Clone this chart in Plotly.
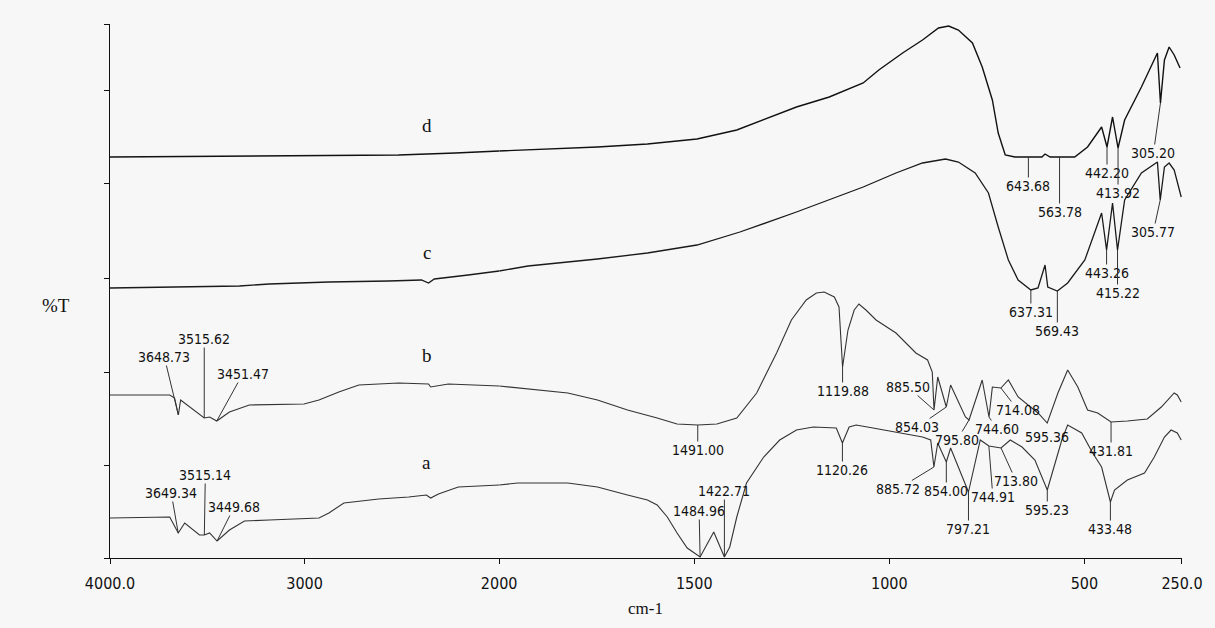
import plotly.graph_objects as go

# ---------------- data (wavenumber cm-1, %T arbitrary units) ----------------
d_wn = [4000, 3233, 2517, 2225, 2000, 1926, 1748, 1620, 1493, 1391, 1289, 1238, 1154, 1067, 1027,
        966, 915, 874, 848, 823, 787, 762, 736, 721, 703, 678, 643.68, 609, 601, 588, 563.78, 525,
        492, 456, 442.20, 428, 413.92, 397, 354, 321, 313, 305.20, 295, 283, 270, 255]
d_t = [80.2, 80.4, 80.6, 81.0, 81.4, 81.6, 82.2, 82.8, 83.8, 85.6, 88.6, 90.2, 92.2, 95.0, 97.6,
       101.0, 103.6, 106.0, 106.4, 105.6, 103.0, 98.2, 91.6, 85.0, 80.6, 80.2, 80.2, 80.2, 80.8, 80.2,
       80.2, 80.2, 82.2, 86.2, 82.2, 88.2, 82.0, 87.6, 94.2, 99.6, 101.0, 91.0, 99.6, 102.2, 100.6, 98.0]

c_wn = [4000, 3693, 3335, 3182, 2875, 2568, 2399, 2363, 2333, 2159, 2000, 1926, 1748, 1620, 1493,
        1383, 1238, 1154, 1067, 983, 915, 856, 823, 780, 746, 721, 695, 670, 637.31, 619, 601, 594,
        569.43, 543, 499, 456, 443.26, 428, 415.22, 397, 354, 313, 305.77, 295, 283, 270, 252]
c_t = [54.0, 54.2, 54.4, 54.8, 55.2, 55.4, 55.6, 55.0, 55.8, 56.6, 57.4, 58.4, 59.8, 61.0, 62.6,
       65.2, 69.2, 71.6, 74.2, 77.0, 79.0, 79.8, 79.2, 77.0, 73.0, 66.2, 59.6, 55.6, 53.6, 54.0,
       58.6, 54.2, 53.4, 55.0, 59.6, 69.0, 61.6, 71.0, 61.6, 71.6, 77.0, 79.2, 71.6, 78.2, 79.0,
       77.6, 72.2]

b_wn = [4000, 3693, 3668, 3648.73, 3637, 3591, 3515.62, 3488, 3451.47, 3386, 3284, 3003, 2926, 2824,
        2721, 2517, 2363, 2352, 2261, 2000, 1952, 1824, 1748, 1671, 1595, 1544, 1491.00, 1442, 1391,
        1340, 1289, 1251, 1213, 1187, 1167, 1141, 1129, 1119.88, 1106, 1090, 1078, 1060, 1034, 983,
        932, 902, 890, 885.50, 876, 854.03, 843, 805, 795.80, 762, 744.60, 736, 714.08, 695, 670,
        619, 595.36, 568, 543, 517, 492, 466, 431.81, 390, 339, 303, 270, 262, 252]
b_t = [32.6, 32.6, 32.0, 28.6, 31.6, 30.2, 28.0, 28.2, 27.4, 29.2, 30.6, 30.8, 31.6, 33.2, 34.6,
       35.0, 34.8, 34.2, 34.8, 34.4, 34.0, 33.0, 31.6, 29.6, 28.0, 26.8, 26.6, 26.8, 28.0, 33.0,
       41.0, 47.6, 51.6, 53.0, 53.2, 52.2, 50.2, 38.2, 45.6, 49.6, 50.8, 49.6, 47.6, 45.0, 41.0,
       39.6, 37.2, 29.6, 36.2, 30.2, 34.6, 28.2, 27.6, 35.6, 28.2, 34.2, 34.0, 35.6, 32.2, 29.0,
       27.0, 33.0, 37.6, 34.2, 29.6, 29.0, 27.2, 27.4, 27.8, 30.2, 33.0, 32.6, 31.2]

a_wn = [4000, 3693, 3649.34, 3616, 3540, 3515.14, 3488, 3449.68, 3386, 3309, 3182, 2926, 2875, 2798,
        2619, 2465, 2374, 2352, 2312, 2210, 2000, 1952, 1824, 1748, 1671, 1620, 1595, 1569, 1544,
        1518, 1484.96, 1450, 1422.71, 1409, 1391, 1366, 1322, 1281, 1238, 1195, 1136, 1120.26, 1103,
        1085, 1042, 983, 915, 894, 885.72, 876, 854.00, 843, 797.21, 767, 744.91, 713.80, 690, 660,
        627, 595.23, 558, 543, 507, 479, 456, 433.48, 423, 390, 346, 321, 295, 278, 262, 252]
a_t = [8.0, 8.2, 5.0, 7.0, 4.6, 4.6, 5.0, 3.4, 5.6, 7.4, 7.6, 8.0, 9.0, 11.0, 11.8, 12.2, 12.6,
       12.0, 12.8, 14.2, 14.6, 15.0, 15.0, 14.2, 12.6, 11.6, 10.6, 8.2, 5.0, 2.0, 0.2, 5.2, 0.2, 2.2,
       8.2, 15.0, 20.2, 23.6, 25.6, 26.2, 26.0, 23.0, 26.2, 26.6, 26.0, 25.2, 24.2, 23.6, 18.2, 23.0,
       19.2, 22.0, 13.2, 23.6, 22.4, 22.0, 23.6, 22.2, 19.6, 13.6, 23.6, 26.6, 25.0, 21.0, 18.2,
       11.2, 13.6, 15.6, 17.0, 20.2, 24.2, 25.6, 25.0, 23.6]

# labelled peaks
d_peaks = [643.68, 563.78, 442.20, 413.92, 305.20]
c_peaks = [637.31, 569.43, 443.26, 415.22, 305.77]
b_peaks = [3648.73, 3515.62, 3451.47, 1491.00, 1119.88, 885.50, 854.03, 795.80, 744.60, 714.08,
           595.36, 431.81]
a_peaks = [3649.34, 3515.14, 3449.68, 1484.96, 1422.71, 1120.26, 885.72, 854.00, 797.21, 744.91,
           713.80, 595.23, 433.48]

x_ticks_left = [4000, 3000, 2000]
x_ticktext_left = ["4000.0", "3000", "2000"]
x_ticks_right = [1500, 1000, 500, 250]
x_ticktext_right = ["1500", "1000", "500", "250.0"]

# ---------------- styles ----------------
# label offsets (pixels, text centre relative to peak point)
d_off = [(0, 29), (0, 55), (0, 26), (0, 45), (-7, 50)]
c_off = [(0, 22), (0, 40), (0, 23), (0, 43), (-7, 32)]
b_off = [(-14, -58), (0, -79), (26, -47), (0, 25), (0, 24), (-26, -23), (-29, 20), (-12, 20),
         (8, 12), (17, 22), (0, 14), (0, 29)]
a_off = [(-7, -40), (1, -60), (17, -34), (-1, -46), (0, -66), (0, 27), (-36, 22), (0, 29),
         (0, 37), (4, 51), (15, 33), (0, 20), (0, 27)]

BG = "#f7f7f7"
SPLIT = 0.363
NARROW = "Liberation Sans Narrow, Arial Narrow, DejaVu Sans Condensed, sans-serif"
SERIF = "Liberation Serif, Times New Roman, serif"

fig = go.Figure()

series = [("d", d_wn, d_t, "#111111", 1.4), ("c", c_wn, c_t, "#1a1a1a", 1.3),
          ("b", b_wn, b_t, "#333333", 1.1), ("a", a_wn, a_t, "#333333", 1.1)]
for name, wn, t, col, w in series:
    lx = [x for x in wn if x >= 2000]
    ly = [y for x, y in zip(wn, t) if x >= 2000]
    rx = [x for x in wn if x <= 2000]
    ry = [y for x, y in zip(wn, t) if x <= 2000]
    fig.add_trace(go.Scatter(x=lx, y=ly, mode="lines", line=dict(color=col, width=w),
                             xaxis="x", yaxis="y", showlegend=False, name=name))
    fig.add_trace(go.Scatter(x=rx, y=ry, mode="lines", line=dict(color=col, width=w),
                             xaxis="x2", yaxis="y", showlegend=False, name=name))

annotations = []
for wn, t, peaks, offs in [(d_wn, d_t, d_peaks, d_off), (c_wn, c_t, c_peaks, c_off),
                           (b_wn, b_t, b_peaks, b_off), (a_wn, a_t, a_peaks, a_off)]:
    for p, (dx, dy) in zip(peaks, offs):
        yv = t[wn.index(p)]
        xr = "x" if p > 2000 else "x2"
        annotations.append(dict(x=p, y=yv, xref=xr, yref="y", text=f"{p:.2f}",
                                showarrow=True, arrowhead=0, arrowwidth=1, arrowcolor="#333",
                                ax=dx, ay=dy, standoff=0, startstandoff=0, borderpad=0,
                                font=dict(family=NARROW, size=14, color="#111")))

# curve letters
for letter, yv in [("d", 86.6), ("c", 61.2), ("b", 40.6), ("a", 19.2)]:
    annotations.append(dict(x=2373, y=yv, xref="x", yref="y", text=letter, showarrow=False,
                            font=dict(family=SERIF, size=19, color="#111")))

annotations.append(dict(x=-0.065, y=0.472, xref="paper", yref="paper", text="%T", showarrow=False,
                        font=dict(family=SERIF, size=19, color="#111")))
annotations.append(dict(x=0.4995, y=-0.094, xref="paper", yref="paper", text="cm-1",
                        showarrow=False, yanchor="middle",
                        font=dict(family=SERIF, size=17, color="#111")))

axis_common = dict(showgrid=False, zeroline=False, showline=True, linecolor="#111", linewidth=1.3,
                   ticks="outside", ticklen=5, tickcolor="#111", anchor="y",
                   tickfont=dict(family=NARROW, size=16, color="#111"), ticklabelstandoff=6)

fig.update_layout(
    width=1215, height=628,
    margin=dict(l=110, r=28, t=24, b=70),
    paper_bgcolor=BG, plot_bgcolor=BG,
    xaxis=dict(domain=[0, SPLIT], range=[4000, 2000], tickmode="array",
               tickvals=x_ticks_left, ticktext=x_ticktext_left, **axis_common),
    xaxis2=dict(domain=[SPLIT, 1], range=[2000, 250], tickmode="array",
                tickvals=x_ticks_right, ticktext=x_ticktext_right, **axis_common),
    yaxis=dict(range=[0, 106.8], showgrid=False, zeroline=False, showline=True, linecolor="#111",
               linewidth=1.3, ticks="outside", ticklen=5, tickcolor="#111", showticklabels=False,
               tickmode="array", tickvals=[0, 18.6, 37.2, 56, 75, 93.6, 106.8]),
    annotations=annotations,
)

fig.write_html("out.html",
               config={"displayModeBar": False},
               post_script="document.body.style.margin='0px';"
                           "document.body.style.background='#f7f7f7';")
